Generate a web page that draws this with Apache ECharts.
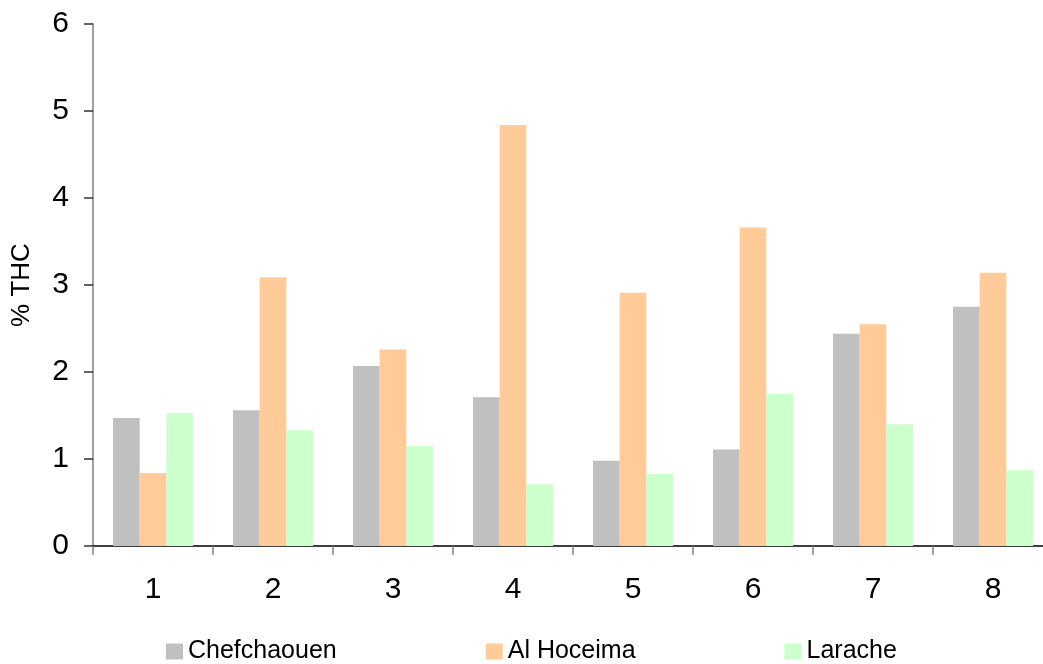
<!DOCTYPE html>
<html>
<head>
<meta charset="utf-8">
<script src="https://cdn.jsdelivr.net/npm/echarts@6/dist/echarts.min.js"></script>
<style>html,body{margin:0;padding:0;background:#fff;}#c{width:1043px;height:664px;}</style>
</head>
<body>
<div id="c"></div>
<script>
const categories = ['1','2','3','4','5','6','7','8'];
const chefchaouen = [1.47, 1.56, 2.07, 1.71, 0.98, 1.11, 2.44, 2.75];
const alHoceima = [0.84, 3.09, 2.26, 4.84, 2.91, 3.66, 2.55, 3.14];
const larache = [1.53, 1.33, 1.15, 0.71, 0.83, 1.75, 1.40, 0.87];
const seriesNames = ['Chefchaouen', 'Al Hoceima', 'Larache'];
const colors = ['#C0C0C0', '#FFCC99', '#CCFFCC'];

const chart = echarts.init(document.getElementById('c'));
const font = 'Liberation Sans, Arial, sans-serif';
chart.setOption({
  animation: false,
  textStyle: { fontFamily: font },
  grid: { left: 93, right: -10, top: 24, bottom: 118, containLabel: false, outerBoundsMode: 'none' },
  legend: {
    left: 166, top: 639, padding: 0,
    itemWidth: 17, itemHeight: 16, itemGap: 149,
    icon: 'rect',
    textStyle: { fontSize: 25, color: '#000', fontFamily: font },
    data: seriesNames
  },
  xAxis: {
    type: 'category',
    data: categories,
    axisLine: { lineStyle: { color: '#000', width: 1.5 } },
    axisTick: { show: true, length: 9, lineStyle: { color: '#808080', width: 1.5 } },
    axisLabel: { fontSize: 30, color: '#000', margin: 29, fontFamily: font }
  },
  yAxis: {
    type: 'value',
    min: 0, max: 6, interval: 1,
    name: '% THC',
    nameLocation: 'middle',
    nameGap: 58,
    nameTextStyle: { fontSize: 26, color: '#000', fontFamily: font },
    axisLine: { show: true, lineStyle: { color: '#808080', width: 1.5 } },
    axisTick: { show: true, length: 9, lineStyle: { color: '#333', width: 1.5 } },
    axisLabel: { fontSize: 30, color: '#000', margin: 24, fontFamily: font },
    splitLine: { show: false }
  },
  series: [
    { name: seriesNames[0], type: 'bar', data: chefchaouen, itemStyle: { color: colors[0] }, barGap: '0%', barCategoryGap: '33.3%' },
    { name: seriesNames[1], type: 'bar', data: alHoceima, itemStyle: { color: colors[1] }, barGap: '0%', barCategoryGap: '33.3%' },
    { name: seriesNames[2], type: 'bar', data: larache, itemStyle: { color: colors[2] }, barGap: '0%', barCategoryGap: '33.3%' }
  ]
});
</script>
</body>
</html>
